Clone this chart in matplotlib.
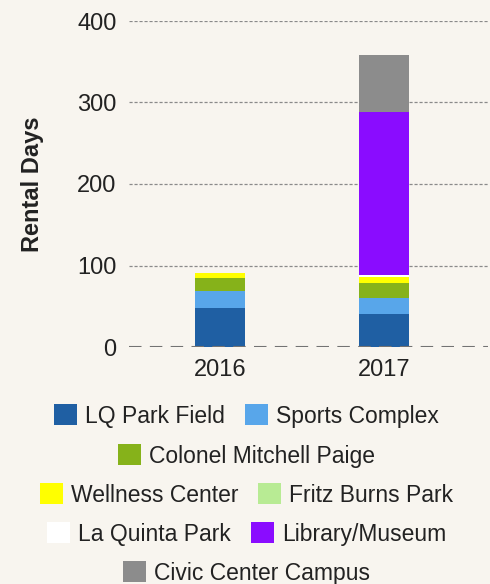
import matplotlib.pyplot as plt
from matplotlib.patches import Patch
import numpy as np

plt.rcParams['font.family'] = ['Liberation Sans', 'DejaVu Sans']

# 数据
years = ['2016', '2017']
venues = ['LQ Park Field', 'Sports Complex', 'Colonel Mitchell Paige', 'Wellness Center',
          'Fritz Burns Park', 'La Quinta Park', 'Library/Museum', 'Civic Center Campus']
lq_park_field = [48, 40]
sports_complex = [21, 20]
colonel_mitchell_paige = [16, 19]
wellness_center = [6, 7]
fritz_burns_park = [0, 0]
la_quinta_park = [0, 2]
library_museum = [0, 200]
civic_center_campus = [0, 70]
colors = ['#1f5fa3', '#58a6ea', '#86b21a', '#ffff00', '#b8eb94', '#ffffff', '#8a0cff', '#8c8c8c']

series = [lq_park_field, sports_complex, colonel_mitchell_paige, wellness_center,
          fritz_burns_park, la_quinta_park, library_museum, civic_center_campus]

bg = '#f8f5ef'
W, H = 490, 584
fig = plt.figure(figsize=(W / 100, H / 100), dpi=100, facecolor=bg)
# 坐标区：x 129..488 px, y 21..347 px
ax = fig.add_axes([129 / W, 1 - 347 / H, (488 - 129) / W, (347 - 21) / H], facecolor=bg)

x = np.arange(len(years))
bottom = np.zeros(len(years))
handles = []
for name, vals, c in zip(venues, series, colors):
    ax.bar(x, vals, width=0.305, bottom=bottom, color=c, zorder=3)
    bottom += np.array(vals)
    handles.append(Patch(facecolor=c, label=name))

ax.set_xlim(-0.555, 1.634)
ax.set_ylim(0, 400)
ax.set_yticks([0, 100, 200, 300, 400])
ax.set_xticks(x)
ax.set_xticklabels(years)
ax.tick_params(length=0, labelsize=17, colors='#222222')
ax.tick_params(axis='y', pad=9)
ax.tick_params(axis='x', pad=9)
for s in ax.spines.values():
    s.set_visible(False)
for yv in [100, 200, 300, 400]:
    ax.axhline(yv, color='#8a8a8a', linestyle=(0, (2.5, 1.5)), linewidth=0.9, zorder=1)
ax.axhline(0, color='#737373', linestyle=(0, (6, 4)), linewidth=1.5, zorder=4)
ax.set_ylabel('Rental Days', fontsize=17, fontweight='bold', labelpad=24, color='#222222')

# 图例：每行单独放
rows = [[0, 1], [2], [3, 4], [5, 6], [7]]
row_y = [416, 456, 495, 534, 573]
for idx, yp in zip(rows, row_y):
    fig.legend(handles=[handles[i] for i in idx], loc='center',
               bbox_to_anchor=(0.503, 1 - yp / H), ncol=len(idx), frameon=False,
               fontsize=16.5, handlelength=1.0, handleheight=1.0, handletextpad=0.35,
               columnspacing=0.87, borderpad=0, labelcolor='#222222')

plt.savefig('out.png', dpi=100, facecolor=bg)
